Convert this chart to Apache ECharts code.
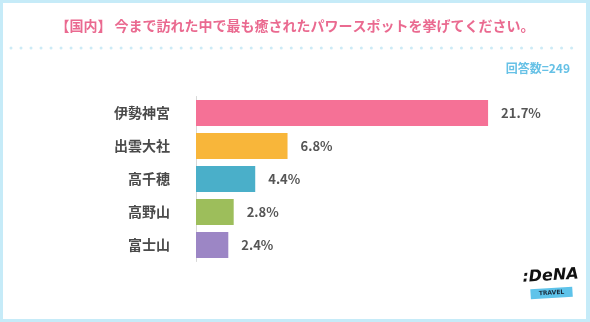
<!DOCTYPE html>
<html><head><meta charset="utf-8">
<script src="https://cdn.jsdelivr.net/npm/echarts@6/dist/echarts.min.js"></script>
<style>html,body{margin:0;padding:0;background:#fff}#c{width:590px;height:322px}</style>
</head><body><div id="c"></div>
<script>
const categories = ['伊勢神宮', '出雲大社', '高千穂', '高野山', '富士山'];
const values = [21.7, 6.8, 4.4, 2.8, 2.4];
const barColors = ['#f57196', '#f8b63a', '#4aafc9', '#9dbe5b', '#9c86c5'];
const titleText = '【国内】 今まで訪れた中で最も癒されたパワースポットを挙げてください。';
const countText = '回答数=249';

const chart = echarts.init(document.getElementById('c'), null, {renderer: 'canvas'});
const F = '"Noto Sans CJK JP", "Noto Sans", sans-serif';
chart.setOption({
  backgroundColor: '#c6ebf8',
  animation: false,
  graphic: [
    {type: 'rect', shape: {x: 3, y: 3, width: 583, height: 316}, style: {fill: '#ffffff'}, z: -10},
    {type: 'text', x: 295, y: 26, style: {text: titleText, font: 'bold 14px ' + F, fill: '#ea6a90', align: 'center', verticalAlign: 'middle'}},
    {type: 'line', shape: {x1: 11, y1: 48, x2: 581, y2: 48}, style: {stroke: '#cdebf6', lineWidth: 3, lineDash: [0.01, 10], lineCap: 'round'}},
    {type: 'text', x: 570, y: 68, style: {text: countText, font: 'bold 12px ' + F, fill: '#66c1e6', align: 'right', verticalAlign: 'middle'}},
    {type: 'group', x: 551, y: 284, rotation: 0.06, children: [
      {type: 'text', x: 0, y: -8, style: {text: ':DeNA', font: 'bold italic 16px "DejaVu Sans", sans-serif', fill: '#111', align: 'center', verticalAlign: 'middle'}},
      {type: 'rect', shape: {x: -21, y: 4, width: 42, height: 10}, style: {fill: '#5ec3ea'}},
      {type: 'text', x: 0, y: 9, style: {text: 'TRAVEL', font: 'bold 6px "DejaVu Sans", sans-serif', fill: '#1a2a3a', align: 'center', verticalAlign: 'middle'}}
    ]}
  ],
  grid: {left: 196, top: 96.5, height: 165, right: 57.5},
  xAxis: {type: 'value', min: 0, max: 25, show: false},
  yAxis: {
    type: 'category', data: categories, inverse: true,
    axisLine: {lineStyle: {color: '#d8d8d8', width: 1}},
    axisTick: {show: false},
    axisLabel: {margin: 26, fontSize: 14, fontWeight: 'bold', color: '#4a4a4a', fontFamily: F}
  },
  series: [{
    type: 'bar', data: values, barWidth: 26,
    itemStyle: {color: p => barColors[p.dataIndex]},
    label: {show: true, position: 'right', distance: 13, formatter: '{c}%', fontSize: 13, fontWeight: 'bold', color: '#555', fontFamily: F}
  }]
});
</script></body></html>
